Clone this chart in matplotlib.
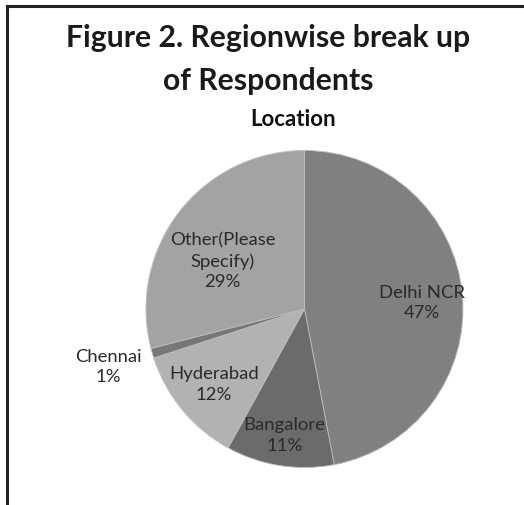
import numpy as np
import matplotlib
matplotlib.use("Agg")
import matplotlib.pyplot as plt
from matplotlib.lines import Line2D

# Data
regions = ['Delhi NCR', 'Bangalore', 'Hyderabad', 'Chennai', 'Other(Please\nSpecify)']
shares = [47, 11, 12, 1, 29]
colors = ['#808080', '#6b6b6b', '#b2b2b2', '#777777', '#a3a3a3']
# label placement tweaks (radius fraction, angle shift in degrees)
label_dist = [0.74, 0.80, 0.74, 1.29, 0.60]
label_shift = [-2, 0, 0, 0, 7]

plt.rcParams['font.family'] = ['Lato', 'DejaVu Sans']

W, H = 524, 506
fig = plt.figure(figsize=(W / 100, H / 100), dpi=100)
fig.patch.set_facecolor('white')

# frame lines (top and left)
fig.add_artist(Line2D([7 / W, 1.0], [1 - 7 / H, 1 - 7 / H], transform=fig.transFigure,
                      color='#222222', linewidth=2.2))
fig.add_artist(Line2D([7 / W, 7 / W], [0.0, 1 - 7 / H], transform=fig.transFigure,
                      color='#222222', linewidth=2.2))

fig.text(268 / W, 1 - 38 / H, 'Figure 2. Regionwise break up', ha='center', va='center',
         fontsize=21.7, fontweight='bold', color='#1a1a1a')
fig.text(268 / W, 1 - 81 / H, 'of Respondents', ha='center', va='center',
         fontsize=21.7, fontweight='bold', color='#1a1a1a')
fig.text(293 / W, 1 - 119 / H, 'Location', ha='center', va='center',
         fontsize=16, fontweight='bold', color='#111111')

cx, cy, r = 304.5, 310, 158.5
ax = fig.add_axes([(cx - r) / W, (H - cy - r) / H, 2 * r / W, 2 * r / H])
wedges, _ = ax.pie(shares, colors=colors, startangle=90, counterclock=False,
                   wedgeprops=dict(edgecolor='#bdbdbd', linewidth=0.6))
ax.set_xlim(-1, 1)
ax.set_ylim(-1, 1)
ax.axis('off')

for w, name, val, d, s in zip(wedges, regions, shares, label_dist, label_shift):
    ang = np.deg2rad((w.theta1 + w.theta2) / 2 + s)
    ax.text(d * np.cos(ang), d * np.sin(ang), f'{name}\n{val}%', ha='center', va='center',
            fontsize=13.3, color='#2a2a2a', linespacing=1.35)

fig.savefig('out.png', dpi=100)
